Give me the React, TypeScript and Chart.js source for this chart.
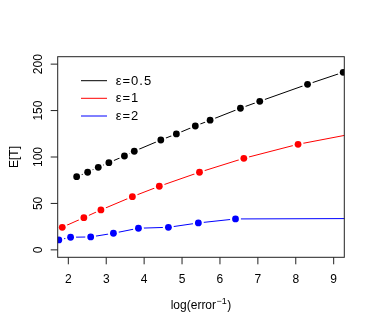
import React, { useEffect, useRef } from "react";
import { Chart, registerables } from "chart.js";

Chart.register(...registerables);

// ---- data ----
const seriesLabels = ["ε=0.5", "ε=1", "ε=2"];
const seriesColors = ["#000000", "#ff0000", "#0000ff"];

const eps05X = [2.22, 2.51, 2.79, 3.07, 3.48, 3.74, 4.44, 4.85, 5.35, 5.74, 6.54, 7.05, 8.31, 9.25];
const eps05Y = [78.8, 83.6, 88.9, 93.9, 101.1, 106.2, 118.3, 124.8, 133.4, 139.6, 152.5, 160.0, 178.3, 191.2];

const eps1X = [1.84, 2.41, 2.86, 3.69, 4.40, 5.46, 6.63, 8.06, 9.6];
const eps1Y = [24.3, 34.7, 43.0, 57.3, 68.5, 83.6, 98.6, 113.7, 125.7];

const eps2X = [1.75, 2.06, 2.59, 3.19, 3.85, 4.64, 5.43, 6.41, 11.0];
const eps2Y = [10.7, 13.6, 13.9, 17.9, 23.3, 24.3, 29.0, 33.3, 33.9];

const xTickValues = [2, 3, 4, 5, 6, 7, 8, 9];
const yTickValues = [0, 50, 100, 150, 200];

const xRange = [1.72, 9.28];
const yRange = [-8, 208];

const xTitle = "log(error";
const xTitleSup = "−1";
const xTitleEnd = ")";
const yTitle = "E[T]";

const FONT = "'Liberation Sans', Arial, Helvetica, sans-serif";

const toPoints = (xs: number[], ys: number[]) => xs.map((x, i) => ({ x, y: ys[i] }));

export default function App() {
  const canvasRef = useRef<HTMLCanvasElement | null>(null);

  useEffect(() => {
    const canvas = canvasRef.current;
    if (!canvas) return;

    const series = [
      toPoints(eps05X, eps05Y),
      toPoints(eps1X, eps1Y),
      toPoints(eps2X, eps2Y),
    ];

    const datasets: any[] = [];
    series.forEach((pts, i) => {
      // line
      datasets.push({
        label: seriesLabels[i] + " line",
        data: pts,
        borderColor: seriesColors[i],
        borderWidth: 1,
        pointRadius: 0,
        fill: false,
        tension: 0,
        clip: 0,
        order: 2,
      });
      // white gap around points (R type="b")
      datasets.push({
        label: seriesLabels[i] + " gap",
        data: pts,
        showLine: false,
        pointRadius: 5.5,
        pointBackgroundColor: "#ffffff",
        pointBorderWidth: 0,
        clip: 0,
        order: 1,
      });
      // points
      datasets.push({
        label: seriesLabels[i],
        data: pts,
        showLine: false,
        pointRadius: 3.4,
        pointBackgroundColor: seriesColors[i],
        pointBorderWidth: 0,
        clip: 0,
        order: 0,
      });
    });

    const decor = {
      id: "rDecor",
      afterDraw(chart: any) {
        const ctx = chart.ctx as CanvasRenderingContext2D;
        const area = chart.chartArea;
        const xs = chart.scales.x;
        const ys = chart.scales.y;
        ctx.save();
        ctx.strokeStyle = "#222";
        ctx.lineWidth = 1;
        ctx.strokeRect(area.left, area.top, area.right - area.left, area.bottom - area.top);

        ctx.fillStyle = "#000";
        ctx.font = `12px ${FONT}`;
        // x ticks
        ctx.textAlign = "center";
        ctx.textBaseline = "alphabetic";
        xTickValues.forEach((v) => {
          const px = xs.getPixelForValue(v);
          ctx.beginPath();
          ctx.moveTo(px, area.bottom);
          ctx.lineTo(px, area.bottom + 7);
          ctx.stroke();
          ctx.fillText(String(v), px, area.bottom + 26);
        });
        // y ticks
        yTickValues.forEach((v) => {
          const py = ys.getPixelForValue(v);
          ctx.beginPath();
          ctx.moveTo(area.left - 7, py);
          ctx.lineTo(area.left, py);
          ctx.stroke();
          ctx.save();
          ctx.translate(area.left - 15.7, py);
          ctx.rotate(-Math.PI / 2);
          ctx.textAlign = "center";
          ctx.fillText(String(v), 0, 0);
          ctx.restore();
        });

        // y title
        ctx.save();
        ctx.translate(18, (area.top + area.bottom) / 2);
        ctx.rotate(-Math.PI / 2);
        ctx.textAlign = "center";
        ctx.fillText(yTitle, 0, 0);
        ctx.restore();

        // x title with superscript
        ctx.textAlign = "left";
        const mainFont = `12px ${FONT}`;
        const supFont = `9px ${FONT}`;
        ctx.font = mainFont;
        const w1 = ctx.measureText(xTitle).width;
        const w3 = ctx.measureText(xTitleEnd).width;
        ctx.font = supFont;
        const w2 = ctx.measureText(xTitleSup).width;
        const total = w1 + w2 + w3 + 1;
        let tx = (area.left + area.right) / 2 - total / 2;
        const ty = 308.5;
        ctx.font = mainFont;
        ctx.fillText(xTitle, tx, ty);
        tx += w1 + 0.5;
        ctx.font = supFont;
        ctx.fillText(xTitleSup, tx, ty - 5);
        tx += w2 + 0.5;
        ctx.font = mainFont;
        ctx.fillText(xTitleEnd, tx, ty);

        // legend
        ctx.font = `13px ${FONT}`;
        (ctx as any).letterSpacing = "1px";
        ctx.textBaseline = "middle";
        const legendY = [80.7, 98.3, 116];
        seriesLabels.forEach((lab, i) => {
          ctx.strokeStyle = seriesColors[i];
          ctx.beginPath();
          ctx.moveTo(81, legendY[i]);
          ctx.lineTo(107, legendY[i]);
          ctx.stroke();
          ctx.fillStyle = "#000";
          ctx.fillText(lab, 115.7, legendY[i] + 0.5);
        });
        (ctx as any).letterSpacing = "0px";
        ctx.restore();
      },
    };

    const chart = new Chart(canvas, {
      type: "line",
      data: { datasets },
      options: {
        animation: false,
        responsive: false,
        events: [],
        layout: {
          padding: { left: 57.7, top: 56.7, right: 29.7, bottom: 72.7 },
        },
        scales: {
          x: { type: "linear", min: xRange[0], max: xRange[1], display: false },
          y: { type: "linear", min: yRange[0], max: yRange[1], display: false },
        },
        plugins: {
          legend: { display: false },
          tooltip: { enabled: false },
        },
      },
      plugins: [decor],
    });

    return () => chart.destroy();
  }, []);

  return (
    <div style={{ position: "fixed", left: 0, top: 0, width: 374, height: 330, background: "#fff" }}>
      <canvas ref={canvasRef} width={374} height={330} style={{ width: 374, height: 330, display: "block" }} />
    </div>
  );
}
